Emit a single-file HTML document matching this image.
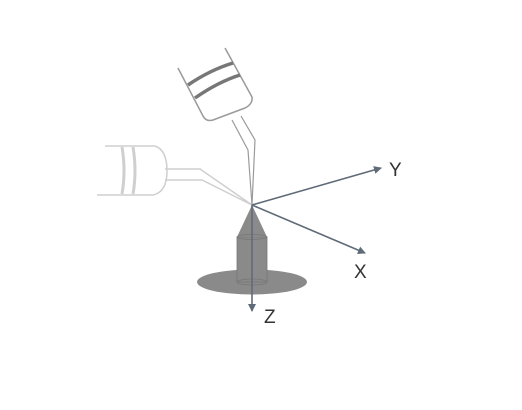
<!DOCTYPE html>
<html><head><meta charset="utf-8"><style>
html,body{margin:0;padding:0;background:#fff;}
svg{display:block;}
text{font-family:"Liberation Sans",sans-serif;}
</style></head><body>
<svg width="522" height="410" viewBox="0 0 522 410">
<defs>
<marker id="ah" markerWidth="8" markerHeight="8" refX="7" refY="4" orient="auto" markerUnits="userSpaceOnUse">
<path d="M0,0 L8,4 L0,8 Z" fill="#5f6b78"/></marker>
</defs>
<g>
<ellipse cx="252" cy="282" rx="55" ry="12.5" fill="#8a8a8a"/>
<rect x="237" y="237" width="30" height="45" fill="#8a8a8a" stroke="#777" stroke-width="0.8"/>
<ellipse cx="252" cy="282" rx="15" ry="3" fill="none" stroke="#777" stroke-width="0.8"/>
<path d="M252,205 L237,237 L267,237 Z" fill="#8a8a8a"/>
<ellipse cx="252" cy="237" rx="15" ry="2.5" fill="none" stroke="#777" stroke-width="0.8"/>
</g>
<g fill="none" stroke="#cfcfcf" stroke-width="1.5">
<path d="M105,146 L155,146 Q167,150 167,171 Q167,192 153,195 L97,195"/>
<path d="M122,147 Q126,171 122,194" stroke-width="3"/>
<path d="M133,147 Q137,171 133,194" stroke-width="3"/>
<path d="M165,169 L200,169 L252,205"/>
<path d="M165,180 L202,180 L252,205"/>
</g>
<g fill="none" stroke="#9a9a9a" stroke-width="1.5">
<path d="M178,68 L203,116 Q206,122 213,120 L245,108 Q253,104 252,97 L225,48"/>
<path d="M188,85 Q210,70 233,63" stroke="#777" stroke-width="3.5"/>
<path d="M195,98 Q218,82 240,75" stroke="#777" stroke-width="3.5"/>
<path d="M232,120 L248,150 L252,205" stroke-width="1.2"/>
<path d="M241,116 L255,140 L252,205" stroke-width="1.2"/>
</g>
<g stroke="#5f6b78" stroke-width="1.6">
<line x1="252" y1="205" x2="381" y2="168" marker-end="url(#ah)"/>
<line x1="252" y1="205" x2="365" y2="253" marker-end="url(#ah)"/>
<line x1="252" y1="205" x2="252" y2="311" marker-end="url(#ah)"/>
</g>
<text x="389" y="176" font-size="19" fill="#333">Y</text>
<text x="354" y="278" font-size="19" fill="#333">X</text>
<text x="264" y="323" font-size="19" fill="#333">Z</text>
</svg>
</body></html>
